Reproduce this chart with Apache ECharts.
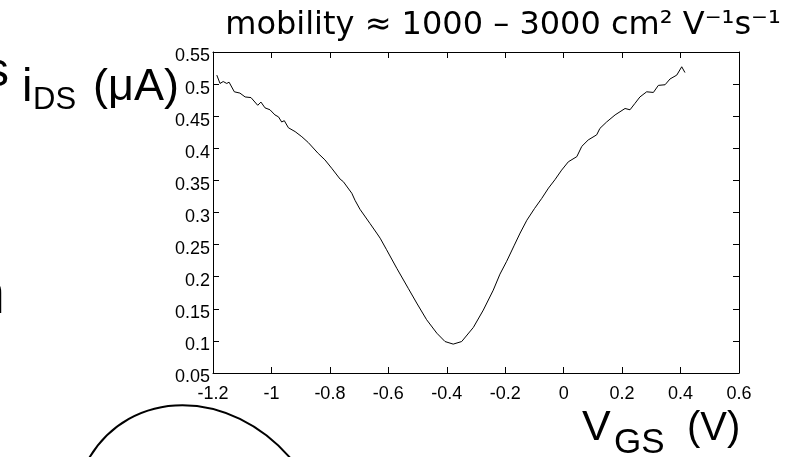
<!DOCTYPE html>
<html>
<head>
<meta charset="utf-8">
<script src="https://cdn.jsdelivr.net/npm/echarts@6/dist/echarts.min.js"></script>
<style>
html,body{margin:0;padding:0;background:#fff;}
#chart{width:802px;height:457px;}
</style>
</head>
<body>
<div id="chart"></div>
<script>
// Gate voltage V_GS (V)
var vgs = [-1.187,-1.176,-1.165,-1.153,-1.145,-1.127,-1.108,-1.090,-1.070,-1.047,-1.036,-1.022,-1.005,-0.988,-0.976,-0.965,-0.956,-0.942,-0.919,-0.896,-0.874,-0.840,-0.817,-0.794,-0.765,-0.754,-0.725,-0.714,-0.697,-0.663,-0.640,-0.628,-0.606,-0.571,-0.532,-0.503,-0.469,-0.434,-0.406,-0.378,-0.349,-0.343,-0.309,-0.275,-0.241,-0.218,-0.195,-0.170,-0.149,-0.126,-0.100,-0.075,-0.052,-0.030,-0.007,0.016,0.045,0.062,0.084,0.113,0.124,0.147,0.176,0.210,0.227,0.244,0.261,0.284,0.307,0.324,0.347,0.364,0.387,0.404,0.415];
// Drain-source current i_DS (uA)
var ids = [0.514,0.501,0.504,0.501,0.503,0.488,0.486,0.480,0.479,0.467,0.472,0.463,0.460,0.452,0.449,0.441,0.443,0.432,0.426,0.418,0.409,0.392,0.382,0.369,0.352,0.348,0.330,0.319,0.305,0.283,0.268,0.260,0.242,0.213,0.182,0.159,0.133,0.112,0.099,0.095,0.099,0.100,0.121,0.148,0.179,0.204,0.224,0.248,0.268,0.288,0.306,0.322,0.338,0.351,0.366,0.379,0.387,0.403,0.413,0.421,0.431,0.441,0.452,0.462,0.460,0.470,0.480,0.488,0.487,0.498,0.499,0.508,0.514,0.527,0.518];
var xTicks = {min:-1.2, max:0.6, interval:0.2};
var yTicks = {min:0.05, max:0.55, interval:0.05};
var titleText = 'mobility ≈ 1000 – 3000 cm² V⁻¹s⁻¹';

var chart = echarts.init(document.getElementById('chart'), null, {renderer:'canvas'});
var tickFont = "'Liberation Sans', Arial, sans-serif";
var bigFont = "'Liberation Sans', Arial, sans-serif";
var lineC = '#000';
function axisBase(){
  return {
    axisLine:{show:true,onZero:false,lineStyle:{color:lineC,width:1}},
    axisTick:{show:true,inside:true,length:6,lineStyle:{color:lineC,width:1}},
    splitLine:{show:false}
  };
}
var data = vgs.map(function(v,i){return [v, ids[i]];});
var option = {
  animation:false,
  backgroundColor:'#fff',
  grid:{left:213,right:63,top:52,bottom:84,containLabel:false},
  xAxis:[
    Object.assign({type:'value',position:'bottom',min:xTicks.min,max:xTicks.max,interval:xTicks.interval,
      axisLabel:{show:true,margin:12,color:'#000',fontFamily:tickFont,fontSize:18,
        formatter:function(v){return String(Math.round(v*10)/10);}}}, axisBase()),
    Object.assign({type:'value',position:'top',min:xTicks.min,max:xTicks.max,interval:xTicks.interval,
      axisLabel:{show:false}}, axisBase())
  ],
  yAxis:[
    Object.assign({type:'value',position:'left',min:yTicks.min,max:yTicks.max,interval:yTicks.interval,
      axisLabel:{show:true,margin:3,color:'#000',fontFamily:tickFont,fontSize:18,verticalAlign:'top',lineHeight:9,
        formatter:function(v){return String(Math.round(v*100)/100);}}}, axisBase()),
    Object.assign({type:'value',position:'right',min:yTicks.min,max:yTicks.max,interval:yTicks.interval,
      axisLabel:{show:false}}, axisBase())
  ],
  series:[{
    type:'line',xAxisIndex:0,yAxisIndex:0,data:data,showSymbol:false,symbol:'none',
    lineStyle:{color:'#000',width:1},itemStyle:{color:'#000'}
  }],
  graphic:[
    {type:'text',x:503,y:26,style:{text:titleText,font:'32px DejaVu Sans',fill:'#000',align:'center',verticalAlign:'middle'}},
    {type:'text',x:9,y:73,style:{text:'s',font:'48px '+bigFont,fill:'#000',align:'right',verticalAlign:'middle'}},
    {type:'text',x:22,y:88,style:{text:'i',font:'47px '+bigFont,fill:'#000',align:'left',verticalAlign:'middle'}},
    {type:'text',x:33,y:100,style:{text:'DS',font:'31px '+bigFont,fill:'#000',align:'left',verticalAlign:'middle'}},
    {type:'text',x:93,y:88,style:{text:'(μA)',font:'45px '+bigFont,fill:'#000',align:'left',verticalAlign:'middle'}},
    {type:'text',x:5,y:296,style:{text:'n',font:'60px '+bigFont,fill:'#000',align:'right',verticalAlign:'middle'}},
    {type:'text',x:582,y:428,style:{text:'V',font:'43px '+bigFont,fill:'#000',align:'left',verticalAlign:'middle'}},
    {type:'text',x:614,y:443,style:{text:'GS',font:'35px '+bigFont,fill:'#000',align:'left',verticalAlign:'middle'}},
    {type:'text',x:687,y:429,style:{text:'(V)',font:'40px '+bigFont,fill:'#000',align:'left',verticalAlign:'middle'}},
    {type:'bezierCurve',shape:{x1:88,y1:460,cpx1:130,cpy1:387,cpx2:230,cpy2:387,x2:292,y2:460},
      style:{stroke:'#000',lineWidth:2,fill:null}}
  ]
};
chart.setOption(option);
</script>
</body>
</html>
